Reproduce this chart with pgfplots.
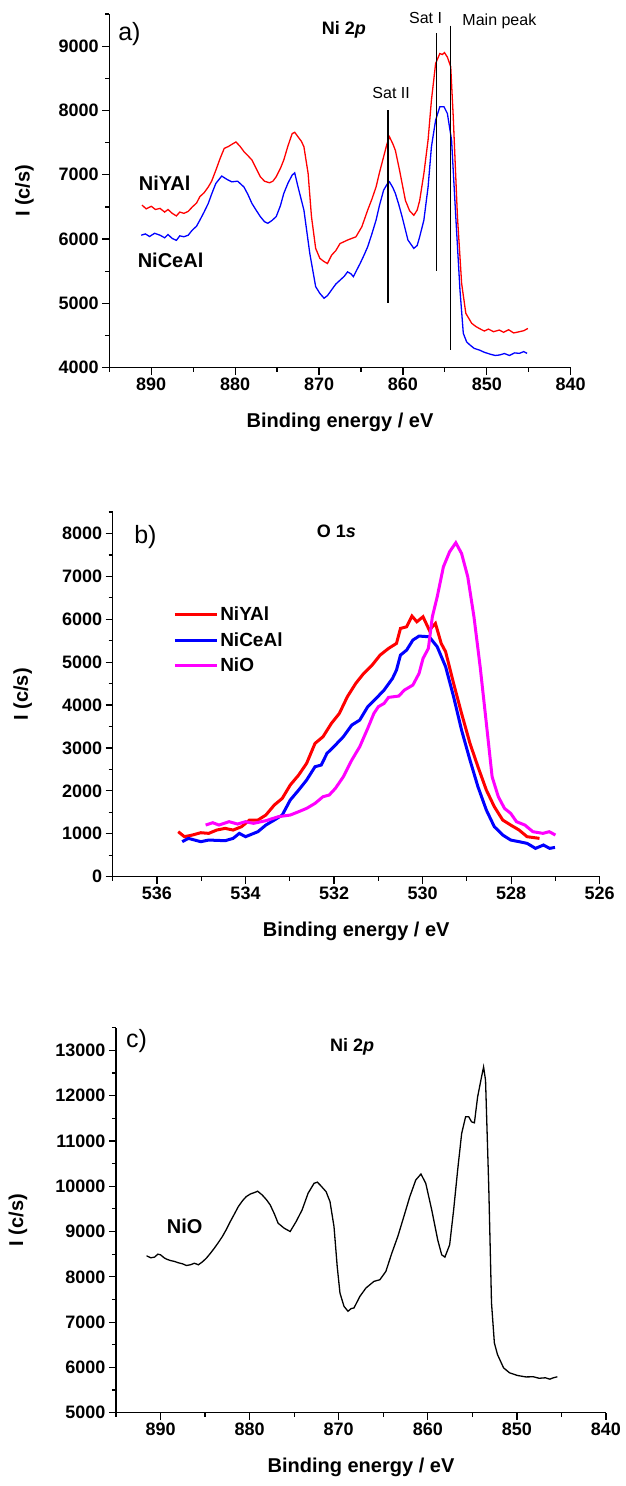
\documentclass[border=0pt]{standalone}
\usepackage{pgfplots}
\pgfplotsset{compat=1.18}
\usepackage{fontspec}
\setmainfont{Liberation Sans}
\definecolor{pmag}{rgb}{1,0,1}
\newcommand\fs[1]{\fontsize{#1}{#1}\selectfont}
\pgfplotsset{
  xps/.style={
    scale only axis,
    axis x line*=bottom, axis y line*=left,
    axis line style={line width=1.2pt, black},
    x dir=reverse,
    tick align=outside,
    major tick length=7pt, minor tick length=4pt,
    every tick/.style={black, line width=1.2pt},
    minor x tick num=1, minor y tick num=1,
    scaled ticks=false,
    /pgf/number format/1000 sep={},
    /pgf/number format/assume math mode=true,
    ticklabel style={font=\bfseries\fs{18}},
    label style={font=\bfseries\fs{20}},
    ylabel={I (c/s)},
    xlabel={Binding energy / eV},
    clip=false,
  }
}
\begin{document}
\begin{tikzpicture}
\useasboundingbox (0pt,0pt) rectangle (626pt,1486pt);
% ---------------- panel a
\begin{axis}[xps,
  at={(109.3pt,1118.3pt)}, anchor=south west,
  width=461.4pt, height=353.7pt,
  xmin=840, xmax=895, ymin=4000, ymax=9500,
  xtick distance=10, ytick distance=1000,
  xlabel style={at={(axis description cs:0.5,-0.155)}, anchor=center},
  ylabel style={at={(axis description cs:-0.184,0.5)}, anchor=center},
]
\addplot[red, line width=1.3pt] coordinates {
(891.1,6528) (890.6,6470) (890.0,6510) (889.5,6460) (888.95,6477) (888.4,6420) (888.0,6460) (887.5,6400) (887.0,6360) (886.6,6420) (886.1,6400) (885.6,6430) (885.1,6500) (884.6,6560) (884.2,6660) (883.7,6720) (883.2,6810) (882.8,6900) (882.3,7070) (881.8,7250) (881.3,7410) (880.8,7440) (880.3,7480) (879.9,7510) (879.4,7440) (878.95,7360) (878.5,7300) (878.0,7230) (877.5,7100) (877.0,6970) (876.5,6900) (875.9,6875) (875.5,6900) (875.1,6970) (874.6,7100) (874.2,7230) (873.7,7450) (873.2,7640) (872.9,7660) (872.5,7590) (872.1,7520) (871.8,7435) (871.3,7020) (870.9,6350) (870.4,5855) (869.9,5700) (869.4,5650) (869.0,5620) (868.5,5750) (868.0,5820) (867.5,5930) (867.0,5960) (866.6,5985) (866.1,6010) (865.6,6035) (864.9,6190) (864.2,6450) (863.7,6620) (863.2,6810) (862.8,7030) (862.3,7280) (861.9,7480) (861.6,7590) (861.2,7480) (860.9,7380) (860.4,7070) (859.7,6600) (859.2,6440) (858.7,6370) (858.3,6450) (858.0,6600) (857.5,7020) (857.0,7540) (856.6,8160) (856.1,8730) (855.6,8885) (855.3,8870) (855.05,8900) (854.7,8830) (854.3,8680) (854.0,7900) (853.5,6350) (853.0,5310) (852.5,4845) (851.8,4690) (851.3,4640) (850.9,4610) (850.3,4570) (849.8,4600) (849.2,4560) (848.5,4585) (848.0,4550) (847.4,4590) (846.8,4540) (846.1,4560) (845.6,4575) (845.1,4610)
};
\addplot[blue, line width=1.3pt] coordinates {
(891.2,6060) (890.7,6080) (890.2,6040) (889.6,6090) (888.95,6060) (888.4,6020) (888.0,6070) (887.5,6010) (887.0,5980) (886.6,6050) (886.1,6036) (885.6,6060) (885.1,6140) (884.6,6200) (884.2,6295) (883.7,6420) (883.2,6555) (882.8,6700) (882.3,6865) (881.6,6980) (881.0,6930) (880.4,6890) (879.7,6900) (878.95,6810) (878.5,6700) (878.0,6555) (877.5,6450) (877.0,6350) (876.5,6270) (876.1,6245) (875.6,6290) (875.1,6350) (874.6,6520) (874.2,6710) (873.7,6870) (873.2,6995) (872.9,7030) (872.5,6810) (871.8,6450) (871.1,5777) (870.4,5260) (869.9,5155) (869.4,5080) (869.0,5120) (868.5,5210) (868.0,5300) (867.5,5360) (867.0,5420) (866.6,5490) (866.2,5460) (865.9,5415) (865.5,5520) (865.1,5620) (864.6,5760) (864.2,5880) (863.7,6080) (863.2,6295) (862.8,6520) (862.3,6760) (861.9,6850) (861.6,6890) (861.2,6800) (860.9,6710) (860.5,6540) (860.1,6350) (859.4,5985) (858.7,5855) (858.3,5900) (858.0,6036) (857.5,6295) (857.0,6810) (856.6,7435) (856.1,7850) (855.6,8057) (855.1,8057) (854.7,7953) (854.2,7540) (853.7,6350) (853.2,5210) (852.8,4534) (852.4,4400) (852.0,4352) (851.5,4300) (850.9,4275) (850.3,4240) (849.6,4210) (849.0,4190) (848.5,4197) (847.9,4220) (847.3,4190) (846.7,4230) (846.1,4223) (845.6,4250) (845.2,4223)
};
\addplot[black, line width=1.5pt] coordinates {(861.8,8000) (861.8,5000)};
\addplot[black, line width=1.5pt] coordinates {(856.0,9200) (856.0,5500)};
\addplot[black, line width=1.5pt] coordinates {(854.3,9320) (854.3,4280)};
\node[font=\fs{25}] at (axis cs:892.6,9190) {a)};
\node[font=\bfseries\fs{18}] at (axis cs:867.05,9252) {Ni 2\textit{p}};
\node[font=\fs{16}] at (axis cs:861.4,8267) {Sat II};
\node[font=\fs{16}] at (axis cs:857.3,9440) {Sat I};
\node[font=\fs{16}] at (axis cs:848.5,9392) {Main peak};
\node[font=\bfseries\fs{20}] at (axis cs:888.4,6868) {NiYAl};
\node[font=\bfseries\fs{20}] at (axis cs:887.7,5675) {NiCeAl};
\end{axis}
% ---------------- panel b
\begin{axis}[xps,
  at={(112.7pt,609.3pt)}, anchor=south west,
  width=487pt, height=364.7pt,
  xmin=526, xmax=537, ymin=0, ymax=8500,
  xtick distance=2, ytick distance=1000,
  xlabel style={at={(axis description cs:0.5,-0.151)}, anchor=center},
  ylabel style={at={(axis description cs:-0.185,0.5)}, anchor=center},
  legend style={draw=none, fill=none, at={(0.124,0.745)}, anchor=north west,
    font=\bfseries\fs{19}, inner sep=0pt, row sep=6pt, cells={anchor=west}},
  legend image code/.code={\draw[#1] (0pt,0pt) -- (42pt,0pt);},
]
\addplot[red, line width=3pt] coordinates {
(535.52,1049) (535.38,932) (535.2,971) (535.01,1025) (534.83,1010) (534.65,1087) (534.46,1126) (534.28,1087) (534.09,1165) (533.91,1320) (533.72,1320) (533.54,1437) (533.35,1670) (533.17,1825) (532.99,2136) (532.8,2369) (532.62,2641) (532.43,3107) (532.25,3262) (532.06,3573) (531.88,3806) (531.7,4194) (531.51,4505) (531.33,4738) (531.14,4932) (530.96,5165) (530.77,5320) (530.59,5437) (530.5,5786) (530.36,5825) (530.24,6074) (530.13,5942) (529.99,6058) (529.85,5748) (529.71,5903) (529.58,5437) (529.48,5243) (529.3,4505) (529.12,3806) (528.93,3107) (528.75,2563) (528.56,2019) (528.38,1631) (528.19,1320) (528.01,1204) (527.82,1087) (527.64,932) (527.36,893)
};
\addlegendentry{NiYAl}
\addplot[blue, line width=3pt] coordinates {
(535.43,816) (535.29,893) (535.01,816) (534.83,854) (534.46,839) (534.28,893) (534.14,1010) (534.0,932) (533.72,1049) (533.54,1204) (533.35,1320) (533.17,1437) (532.99,1786) (532.8,2019) (532.62,2252) (532.43,2563) (532.29,2602) (532.16,2874) (531.97,3068) (531.79,3262) (531.6,3534) (531.42,3650) (531.24,3961) (531.05,4155) (530.87,4350) (530.68,4621) (530.59,4816) (530.5,5165) (530.36,5282) (530.22,5515) (530.08,5608) (529.85,5592) (529.67,5359) (529.48,4893) (529.3,4194) (529.12,3417) (528.93,2718) (528.75,2097) (528.56,1553) (528.38,1165) (528.19,971) (528.01,854) (527.82,816) (527.64,777) (527.45,660) (527.27,738) (527.13,660) (527.01,683)
};
\addlegendentry{NiCeAl}
\addplot[pmag, line width=3pt] coordinates {
(534.9,1204) (534.74,1258) (534.6,1204) (534.37,1282) (534.18,1227) (534.0,1282) (533.82,1243) (533.54,1305) (533.26,1398) (532.99,1437) (532.8,1515) (532.62,1592) (532.43,1709) (532.25,1864) (532.11,1903) (531.97,2058) (531.79,2330) (531.6,2718) (531.42,3029) (531.24,3456) (531.1,3806) (531.0,3961) (530.87,4039) (530.77,4179) (530.54,4210) (530.41,4350) (530.22,4466) (530.08,4738) (529.99,5087) (529.87,5320) (529.78,6058) (529.67,6524) (529.53,7223) (529.39,7573) (529.25,7783) (529.12,7534) (528.98,6990) (528.84,6058) (528.7,4893) (528.56,3573) (528.43,2330) (528.29,1864) (528.15,1592) (528.01,1476) (527.88,1282) (527.69,1204) (527.51,1049) (527.28,1010) (527.14,1049) (527.0,971)
};
\addlegendentry{NiO}
\node[font=\fs{25}] at (axis cs:536.26,7924) {b)};
\node[font=\bfseries\fs{18}] at (axis cs:531.95,8039) {O 1\textit{s}};
\end{axis}
% ---------------- panel c
\begin{axis}[xps,
  at={(116pt,73.3pt)}, anchor=south west,
  width=490pt, height=385pt,
  xmin=840, xmax=895, ymin=5000, ymax=13500,
  xtick distance=10, ytick distance=1000,
  xlabel style={at={(axis description cs:0.5,-0.143)}, anchor=center},
  ylabel style={at={(axis description cs:-0.2,0.5)}, anchor=center},
]
\addplot[black, line width=1.3pt] coordinates {
(891.57,8464) (891.1,8420) (890.67,8435) (890.3,8500) (890.0,8486) (889.6,8420) (889.33,8391) (888.9,8360) (888.43,8340) (888.0,8310) (887.54,8288) (887.1,8250) (886.64,8266) (886.2,8300) (885.75,8266) (885.3,8330) (884.85,8413) (884.4,8520) (883.96,8633) (883.5,8760) (883.06,8890) (882.6,9050) (882.17,9220) (881.7,9390) (881.27,9550) (880.8,9680) (880.38,9771) (879.9,9830) (879.48,9859) (879.1,9890) (878.59,9807) (878.1,9700) (877.69,9587) (877.2,9380) (876.8,9183) (876.12,9073) (875.45,9000) (874.78,9220) (874.11,9477) (873.44,9844) (872.77,10064) (872.4,10090) (872.09,10028) (871.42,9881) (870.98,9661) (870.53,9110) (870.17,8229) (869.86,7642) (869.41,7349) (868.96,7239) (868.6,7300) (868.29,7312) (867.62,7569) (866.95,7752) (866.05,7899) (865.38,7936) (864.71,8119) (864.04,8523) (863.37,8890) (862.69,9330) (862.02,9771) (861.35,10138) (860.77,10270) (860.23,10064) (859.56,9477) (858.89,8817) (858.44,8486) (858.08,8435) (857.55,8706) (857.1,9477) (856.65,10358) (856.2,11165) (855.76,11532) (855.4,11532) (855.09,11422) (854.77,11400) (854.41,11972) (853.97,12413) (853.74,12633) (853.52,12339) (853.16,9991) (852.85,7422) (852.53,6541) (852.18,6284) (851.5,5991) (850.83,5881) (849.94,5822) (849.0,5790) (848.15,5793) (847.5,5760) (846.8,5771) (846.3,5740) (845.91,5771) (845.46,5793)
};
\node[font=\fs{25}] at (axis cs:892.7,13205) {c)};
\node[font=\bfseries\fs{18}] at (axis cs:868.5,13073) {Ni 2\textit{p}};
\node[font=\bfseries\fs{20}] at (axis cs:887.3,9110) {NiO};
\end{axis}
\end{tikzpicture}
\end{document}
